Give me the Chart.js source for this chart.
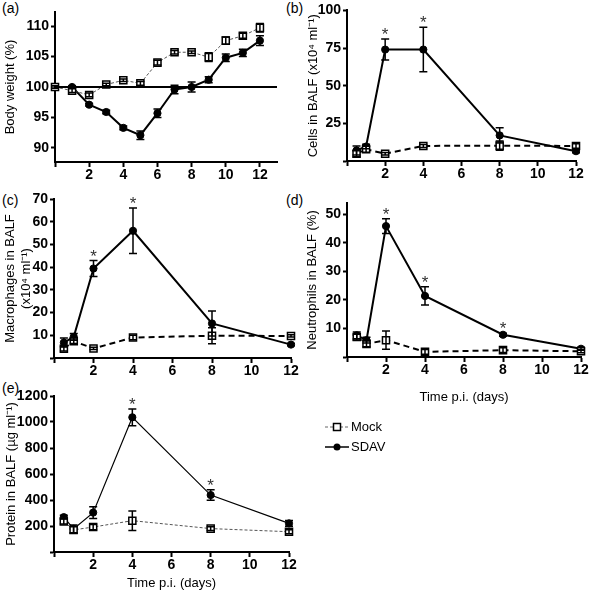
<!DOCTYPE html>
<html>
<head>
<meta charset="utf-8">
<script src="https://cdn.jsdelivr.net/npm/chart.js@4.4.1/dist/chart.umd.min.js"></script>
<style>
  body { margin: 0; width: 590px; height: 594px; position: relative; background: #fff; overflow: hidden;
         font-family: "Liberation Sans", Arial, sans-serif; color: #000; }
  canvas { position: absolute; }
  .tag { position: absolute; font-size: 14px; line-height: 16px; }
  .key { position: absolute; left: 325px; font-size: 13px; line-height: 16px; display: flex; align-items: center; }
  .key svg { margin-right: 2px; }
</style>
</head>
<body>
<div class="tag" style="left:2px;top:0px">(a)</div>
<div class="tag" style="left:286px;top:0px">(b)</div>
<div class="tag" style="left:2px;top:192px">(c)</div>
<div class="tag" style="left:286px;top:192px">(d)</div>
<div class="tag" style="left:2px;top:380px">(e)</div>

<canvas id="panelA" width="290" height="190" style="left:0;top:0"></canvas>
<canvas id="panelB" width="300" height="190" style="left:290px;top:0"></canvas>
<canvas id="panelC" width="300" height="200" style="left:0;top:188px"></canvas>
<canvas id="panelD" width="300" height="220" style="left:290px;top:188px"></canvas>
<canvas id="panelE" width="300" height="209" style="left:0;top:385px"></canvas>

<div class="key" style="top:419px">
  <svg width="24" height="16"><line x1="0" y1="8" x2="24" y2="8" stroke="#666" stroke-width="1" stroke-dasharray="3,2"/><rect x="8.5" y="4.5" width="7" height="7" fill="#fff" stroke="#000" stroke-width="1.5"/></svg>Mock
</div>
<div class="key" style="top:439px">
  <svg width="24" height="16"><line x1="0" y1="8" x2="24" y2="8" stroke="#000" stroke-width="1.5"/><circle cx="12" cy="8" r="3.5" fill="#000"/></svg>SDAV
</div>

<script>
// (a) body weight
const daysA = [0, 1, 2, 3, 4, 5, 6, 7, 8, 9, 10, 11, 12];
const mockA = [100, 99.4, 98.7, 100.4, 101.1, 100.6, 104.0, 105.7, 105.7, 104.9, 107.6, 108.4, 109.7];
const mockErrA = [0.2, 0.3, 0.3, 0.2, 0.2, 0.3, 0.4, 0.3, 0.2, 0.7, 0.6, 0.4, 0.7];
const sdavA = [100, 100, 97.1, 95.9, 93.3, 92.1, 95.7, 99.6, 100, 101.2, 104.8, 105.6, 107.6];
const sdavErrA = [0.2, 0.2, 0.2, 0.3, 0.3, 0.7, 0.7, 0.7, 0.8, 0.5, 0.6, 0.6, 0.8];

// (b)-(e) BALF samples
const daysBALF = [0.5, 1, 2, 4, 8, 12];
const mockB = [4.8, 7.8, 4.8, 10, 10.2, 10];
const mockErrB = [2, 2, 0.8, 1, 3, 1.5];
const sdavB = [7, 9.6, 74, 74, 17, 6.5];
const sdavErrB = [3, 1.5, 7, 14.8, 5, 1];
const starsB = [2, 4];

const mockC = [4.1, 7.4, 4.2, 9, 9.8, 9.7];
const mockErrC = [1, 1, 0.5, 1, 3.5, 0.5];
const sdavC = [6.8, 9.3, 39.4, 56, 15.2, 5.9];
const sdavErrC = [2, 1.5, 3.5, 10, 5.5, 0.5];
const starsC = [2, 4];

const mockD = [7, 4.6, 5.9, 1.8, 2.4, 2];
const mockErrD = [1, 1, 3.2, 0.8, 0.8, 0.5];
const sdavD = [7.6, 5.9, 45.9, 21.4, 7.8, 2.9];
const sdavErrD = [1.2, 1, 2.6, 3.2, 0.5, 0.5];
const starsD = [2, 4, 8];

const mockE = [235, 170, 192, 241, 180, 156];
const mockErrE = [20, 25, 20, 75, 15, 15];
const sdavE = [268, 178, 303, 1036, 438, 220];
const sdavErrE = [15, 30, 45, 64, 40, 22];
const starsE = [4, 8];

const xTicksA = [0, 2, 4, 6, 8, 10, 12];
const xTicks = [0, 2, 4, 6, 8, 10, 12];
const yTicksA = [90, 95, 100, 105, 110];
const yTicksB = [0, 25, 50, 75, 100];
const yTicksC = [0, 10, 20, 30, 40, 50, 60, 70];
const yTicksD = [0, 10, 20, 30, 40, 50];
const yTicksE = [0, 200, 400, 600, 800, 1000, 1200];

const tickFont = { family: '"Liberation Sans Narrow", "Liberation Sans", sans-serif', size: 14, weight: 'bold' };
const titleFont = { family: '"Liberation Sans", Arial, sans-serif', size: 13 };

const errorBars = {
  id: 'errorBars',
  afterDatasetsDraw(chart) {
    const { ctx, scales: { x, y } } = chart;
    chart.data.datasets.forEach(ds => {
      if (!ds.errors) return;
      ctx.save();
      ctx.strokeStyle = '#000';
      ctx.lineWidth = 1.5;
      ds.data.forEach((p, i) => {
        const e = ds.errors[i];
        if (!e) return;
        const px = x.getPixelForValue(p.x);
        const top = y.getPixelForValue(p.y + e);
        const bot = y.getPixelForValue(p.y - e);
        ctx.beginPath();
        ctx.moveTo(px, top); ctx.lineTo(px, bot);
        ctx.moveTo(px - 4, top); ctx.lineTo(px + 4, top);
        ctx.moveTo(px - 4, bot); ctx.lineTo(px + 4, bot);
        ctx.stroke();
      });
      ctx.restore();
    });

    // significance stars over the SDAV series
    const stars = chart.options.plugins.stars;
    if (stars && stars.days) {
      const ds = chart.data.datasets[1];
      ctx.save();
      ctx.fillStyle = '#333';
      ctx.font = '17px "Liberation Sans", Arial, sans-serif';
      ctx.textAlign = 'center';
      ctx.textBaseline = 'alphabetic';
      stars.days.forEach(d => {
        const i = ds.data.findIndex(p => p.x === d);
        const p = ds.data[i];
        const px = x.getPixelForValue(p.x);
        const top = y.getPixelForValue(p.y + ds.errors[i]);
        ctx.fillText('*', px, top + 1);
      });
      ctx.restore();
    }

    // reference line at 100 % body weight
    const ref = chart.options.plugins.refLine;
    if (ref && ref.value !== undefined) {
      const py = y.getPixelForValue(ref.value);
      ctx.save();
      ctx.strokeStyle = '#000';
      ctx.lineWidth = 2;
      ctx.beginPath();
      ctx.moveTo(chart.chartArea.left, py);
      ctx.lineTo(chart.chartArea.right, py);
      ctx.stroke();
      ctx.restore();
    }
  }
};

function series(days, vals, errs, style) {
  return Object.assign({
    data: days.map((d, i) => ({ x: d, y: vals[i] })),
    errors: errs,
    clip: false,
    fill: false,
    tension: 0,
    borderColor: '#000',
    pointBorderColor: '#000',
    pointHoverRadius: 0
  }, style);
}

function mockStyle(thin) {
  return thin
    ? { label: 'Mock', borderWidth: 1, borderColor: '#555', borderDash: [3, 2], pointStyle: 'rect', pointRadius: 5,
        pointBackgroundColor: '#fff', pointBorderWidth: 1.5 }
    : { label: 'Mock', borderWidth: 2, borderDash: [6, 4], pointStyle: 'rect', pointRadius: 5,
        pointBackgroundColor: '#fff', pointBorderWidth: 1.5 };
}

function sdavStyle(width) {
  return { label: 'SDAV', borderWidth: width, pointStyle: 'circle', pointRadius: 3.6,
           pointBackgroundColor: '#000', pointBorderWidth: 1 };
}

function makePanel(id, o) {
  new Chart(document.getElementById(id), {
    type: 'line',
    data: { datasets: o.datasets },
    plugins: [errorBars],
    options: {
      responsive: false,
      animation: false,
      events: [],
      layout: { padding: { top: o.padTop, right: o.padRight, left: 0, bottom: 0 } },
      plugins: {
        legend: { display: false },
        tooltip: { enabled: false },
        stars: { days: o.stars },
        refLine: { value: o.refLine }
      },
      scales: {
        x: {
          type: 'linear', min: o.xMin, max: o.xMax,
          afterBuildTicks: s => { s.ticks = o.xTicks.map(v => ({ value: v })); },
          afterFit: s => { s.height = o.xHeight; },
          grid: { drawOnChartArea: false, tickLength: 5, tickWidth: 2, color: '#000' },
          border: { width: 2, color: '#000' },
          ticks: { color: '#000', font: tickFont, padding: 0, maxRotation: 0, autoSkip: false,
                   callback: v => (v === 0 ? '' : v) },
          title: o.xTitle
            ? { display: true, text: o.xTitle, font: titleFont, color: '#000', padding: { top: 0, bottom: 3 } }
            : { display: false }
        },
        y: {
          type: 'linear', min: o.yMin, max: o.yMax,
          afterBuildTicks: s => { s.ticks = o.yTicks.map(v => ({ value: v })); },
          afterFit: s => { s.width = o.yWidth; },
          grid: { drawOnChartArea: false, tickLength: 4, tickWidth: 2, color: '#000' },
          border: { width: 2, color: '#000' },
          ticks: { color: '#000', font: tickFont, padding: 2,
                   callback: v => (v === 0 ? '' : v) },
          title: { display: true, text: o.yTitle, font: titleFont, color: '#000',
                   padding: { top: o.yTitlePad, bottom: 0 } }
        }
      }
    }
  });
}

makePanel('panelA', {
  datasets: [series(daysA, mockA, mockErrA, mockStyle(true)), series(daysA, sdavA, sdavErrA, sdavStyle(2))],
  xMin: 0, xMax: 13, xTicks: xTicksA, xHeight: 28,
  yMin: 87.7, yMax: 112.3, yTicks: yTicksA, yWidth: 55,
  padTop: 12, padRight: 13, yTitle: 'Body weight (%)', yTitlePad: 3, refLine: 100
});

makePanel('panelB', {
  datasets: [series(daysBALF, mockB, mockErrB, mockStyle(false)), series(daysBALF, sdavB, sdavErrB, sdavStyle(2))],
  xMin: 0, xMax: 12, xTicks: xTicks, xHeight: 29,
  yMin: 0, yMax: 100, yTicks: yTicksB, yWidth: 57,
  padTop: 8, padRight: 14, yTitle: 'Cells in BALF (x10\u2074 ml\u207B\u00B9)', yTitlePad: 16, stars: starsB
});

makePanel('panelC', {
  datasets: [series(daysBALF, mockC, mockErrC, mockStyle(false)), series(daysBALF, sdavC, sdavErrC, sdavStyle(2))],
  xMin: 0, xMax: 12, xTicks: xTicks, xHeight: 30,
  yMin: 0, yMax: 70, yTicks: yTicksC, yWidth: 54,
  padTop: 11, padRight: 9, yTitle: ['Macrophages in BALF', '(x10\u2074 ml\u207B\u00B9)'], yTitlePad: 3, stars: starsC
});

makePanel('panelD', {
  datasets: [series(daysBALF, mockD, mockErrD, mockStyle(false)), series(daysBALF, sdavD, sdavErrD, sdavStyle(2))],
  xMin: 0, xMax: 12, xTicks: xTicks, xHeight: 51, xTitle: 'Time p.i. (days)',
  yMin: 0, yMax: 54, yTicks: yTicksD, yWidth: 57,
  padTop: 15, padRight: 9, yTitle: 'Neutrophils in BALF (%)', yTitlePad: 15, stars: starsD
});

makePanel('panelE', {
  datasets: [series(daysBALF, mockE, mockErrE, mockStyle(true)), series(daysBALF, sdavE, sdavErrE, sdavStyle(1.2))],
  xMin: 0, xMax: 12, xTicks: xTicks, xHeight: 42, xTitle: 'Time p.i. (days)',
  yMin: 0, yMax: 1200, yTicks: yTicksE, yWidth: 54,
  padTop: 11, padRight: 11, yTitle: 'Protein in BALF (\u00B5g ml\u207B\u00B9)', yTitlePad: 4, stars: starsE
});
</script>
</body>
</html>
